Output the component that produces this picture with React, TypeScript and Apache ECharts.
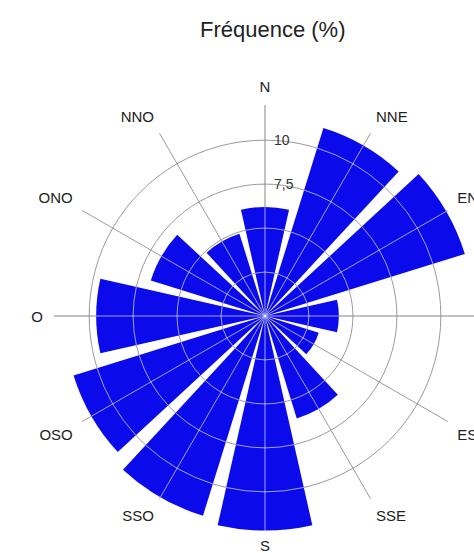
import React, { useEffect, useRef } from "react";
import * as echarts from "echarts";

const titleText = "Fréquence (%)";
const directions = ["N", "NNE", "ENE", "E", "ESE", "SSE", "S", "SSO", "OSO", "O", "ONO", "NNO"];
const frequencies = [6.2, 11.2, 11.9, 4.2, 3.2, 6.1, 12.2, 11.9, 11.4, 9.6, 6.8, 4.9];
const radiusTicks = [0, 2.5, 5, 7.5, 10, 12];
const radiusTickLabels = ["", "", "", "7,5", "10", ""];
const ringValues = [2.5, 5, 7.5, 10];

const CENTER = [265, 316];
const RADIUS = 211;
const R_MAX = 12;
const BAR_FRACTION = 0.85;
const BAR_COLOR = "#0a0aea";
const GRID_COLOR = "#9a9a9a";
const AXIS_COLOR = "#858585";
const ON_BAR_COLOR = "rgba(255,255,255,0.62)";

export default function App() {
  const ref = useRef<HTMLDivElement>(null);
  useEffect(() => {
    if (!ref.current) return;
    const chart = echarts.init(ref.current, undefined, { renderer: "svg" });
    const halfWidthRad = ((360 / directions.length) * BAR_FRACTION) / 2 * Math.PI / 180;
    const spokeColors = directions.map((_, i) => (i % 3 === 0 ? AXIS_COLOR : GRID_COLOR));
    const ringColors = radiusTicks.map((t) => (t > 10 ? "rgba(0,0,0,0)" : GRID_COLOR));

    chart.setOption({
      animation: false,
      backgroundColor: "#ffffff",
      title: {
        text: titleText,
        left: 195,
        top: 13,
        textStyle: {
          fontFamily: "Liberation Sans, Arial, sans-serif",
          fontSize: 22,
          fontWeight: "normal",
          color: "#222",
        },
      },
      polar: [
        { center: CENTER, radius: RADIUS },
        { center: CENTER, radius: RADIUS },
      ],
      angleAxis: [
        {
          polarIndex: 0,
          type: "value",
          min: 0,
          max: 360,
          interval: 30,
          startAngle: 90,
          clockwise: true,
          axisLine: { show: false },
          axisTick: { show: false },
          axisLabel: {
            show: true,
            margin: 11,
            fontFamily: "Liberation Sans, Arial, sans-serif",
            fontSize: 15,
            color: "#222",
            formatter: (v: number) => (v >= 360 ? "" : directions[Math.round(v / 30) % directions.length]),
          },
          splitLine: { show: true, lineStyle: { color: spokeColors, width: 1 } },
        },
        {
          polarIndex: 1,
          type: "category",
          data: directions,
          startAngle: 90 + 180 / directions.length,
          clockwise: true,
          axisLine: { show: false },
          axisTick: { show: false },
          axisLabel: { show: false },
          splitLine: { show: false },
        },
      ],
      radiusAxis: [
        {
          polarIndex: 0,
          type: "value",
          min: 0,
          max: R_MAX,
          interval: 2.5,
          axisLine: { show: false },
          axisTick: { show: false },
          axisLabel: {
            show: true,
            margin: -9,
            align: "left",
            verticalAlign: "middle",
            fontFamily: "Liberation Sans, Arial, sans-serif",
            fontSize: 14,
            color: "#333",
            formatter: (v: number) => {
              const i = radiusTicks.indexOf(v);
              return i >= 0 ? radiusTickLabels[i] : "";
            },
          },
          splitLine: { show: true, lineStyle: { color: ringColors, width: 1 } },
        },
        {
          polarIndex: 1,
          type: "value",
          min: 0,
          max: R_MAX,
          axisLine: { show: false },
          axisTick: { show: false },
          axisLabel: { show: false },
          splitLine: { show: false },
        },
      ],
      series: [
        {
          type: "bar",
          coordinateSystem: "polar",
          polarIndex: 1,
          data: frequencies,
          barCategoryGap: `${Math.round((1 - BAR_FRACTION) * 100)}%`,
          clip: false,
          itemStyle: { color: BAR_COLOR },
          z: 2,
        },
        {
          type: "custom",
          coordinateSystem: "polar",
          polarIndex: 1,
          clip: false,
          z: 3,
          silent: true,
          data: frequencies.map((v, i) => [v, i]),
          renderItem: (params: any, api: any) => {
            const v = api.value(0) as number;
            const cat = api.value(1) as number;
            const cx = params.coordSys.cx;
            const cy = params.coordSys.cy;
            const tip = api.coord([v, cat]);
            const ang = Math.atan2(tip[1] - cy, tip[0] - cx);
            const children: any[] = [
              {
                type: "line",
                shape: { x1: cx, y1: cy, x2: tip[0], y2: tip[1] },
                style: { stroke: ON_BAR_COLOR, lineWidth: 1 },
              },
            ];
            ringValues.forEach((rv) => {
              if (rv < v) {
                const p = api.coord([rv, cat]);
                const r = Math.hypot(p[0] - cx, p[1] - cy);
                children.push({
                  type: "arc",
                  shape: { cx, cy, r, startAngle: ang - halfWidthRad, endAngle: ang + halfWidthRad, clockwise: true },
                  style: { stroke: ON_BAR_COLOR, fill: "none", lineWidth: 1 },
                });
              }
            });
            return { type: "group", children };
          },
        },
      ],
    });
    return () => chart.dispose();
  }, []);
  return (
    <div
      ref={ref}
      style={{ position: "absolute", left: 0, top: 0, width: 474, height: 553, background: "#fff" }}
    />
  );
}
